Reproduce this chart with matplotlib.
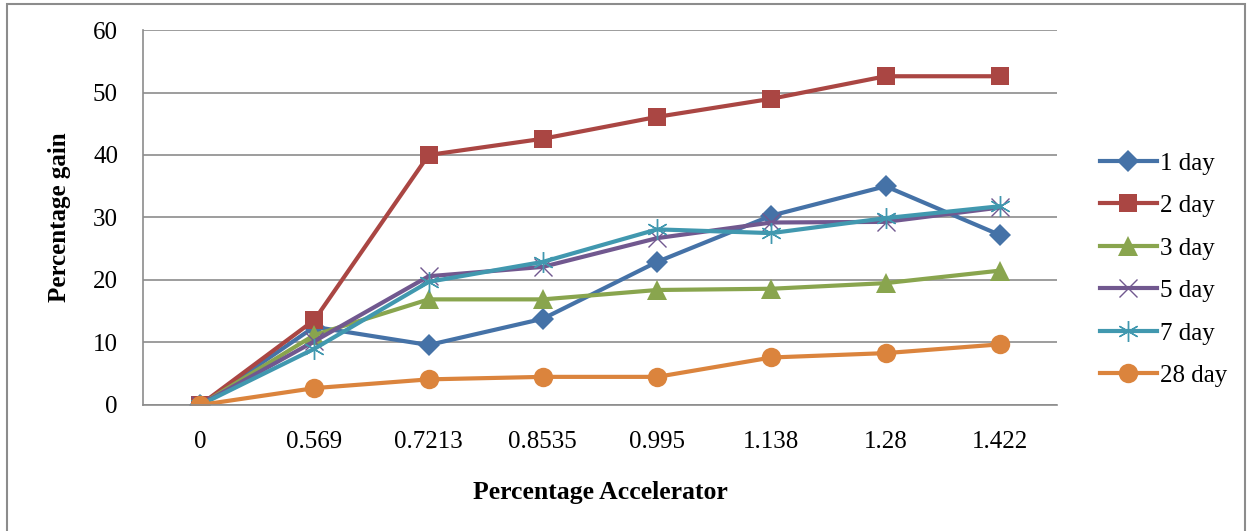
import matplotlib.pyplot as plt
from matplotlib.patches import Rectangle

# accelerator dosage (categories on the x axis)
accelerator = ["0", "0.569", "0.7213", "0.8535", "0.995", "1.138", "1.28", "1.422"]

# percentage strength gain per curing age
gain_1day = [0, 12.5, 9.6, 13.8, 22.9, 30.3, 35.0, 27.2]
gain_2day = [0, 13.6, 40.0, 42.6, 46.1, 49.0, 52.6, 52.6]
gain_3day = [0, 11.2, 16.9, 16.9, 18.4, 18.6, 19.5, 21.5]
gain_5day = [0, 10.2, 20.6, 22.1, 26.7, 29.2, 29.3, 31.6]
gain_7day = [0, 9.0, 19.7, 22.9, 28.1, 27.5, 29.9, 31.8]
gain_28day = [0, 2.7, 4.1, 4.5, 4.5, 7.6, 8.3, 9.7]

series_labels = ["1 day", "2 day", "3 day", "5 day", "7 day", "28 day"]

plt.rcParams['font.family'] = ['Liberation Serif', 'DejaVu Serif']

fig = plt.figure(figsize=(12.5, 5.31), dpi=100)
ax = fig.add_axes([0.1144, 0.2373, 0.7312, 0.7062])

# outer chart border
fig.patches.append(Rectangle((7 / 1250, -0.01), 1238 / 1250, 1 - 4 / 531 + 0.01,
                             transform=fig.transFigure, fill=False,
                             edgecolor="#8c8c8c", linewidth=1.5))

x = range(len(accelerator))
styles = [
    (gain_1day, "#4572A7", "D", 11),
    (gain_2day, "#AA4643", "s", 13),
    (gain_3day, "#89A54E", "^", 14),
    (gain_5day, "#71588F", "x", 13),
    (gain_7day, "#4198AF", (6, 2, 0), 15),
    (gain_28day, "#DB843D", "o", 14),
]
for (vals, col, mk, ms), lab in zip(styles, series_labels):
    if mk in ("x", (6, 2, 0)):
        # thin open glyphs for the cross / asterisk series
        ax.plot(x, vals, color=col, linewidth=3, label=lab, marker=mk,
                markersize=ms, markeredgewidth=1.0, markeredgecolor=col,
                solid_joinstyle="round")
    else:
        ax.plot(x, vals, color=col, linewidth=3, label=lab, marker=mk,
                markersize=ms, markeredgewidth=0, solid_joinstyle="round")

ax.set_xlim(-0.5, len(accelerator) - 0.5)
ax.set_ylim(0, 60)
ax.set_yticks(range(0, 61, 10))
ax.set_xticks(list(x))
ax.set_xticklabels(accelerator)
ax.tick_params(axis="both", length=0, labelsize=18, colors="black")
ax.tick_params(axis="x", pad=19)
ax.tick_params(axis="y", pad=18)

ax.grid(axis="y", color="#8c8c8c", linewidth=1.2)
ax.set_axisbelow(True)
for side in ("top", "right"):
    ax.spines[side].set_visible(False)
for side in ("left", "bottom"):
    ax.spines[side].set_color("#8c8c8c")
    ax.spines[side].set_linewidth(1.2)

ax.set_xlabel("Percentage Accelerator", fontsize=18.5, fontweight="bold", labelpad=20)
ax.set_ylabel("Percentage gain", fontsize=18, fontweight="bold", labelpad=16)

ax.legend(loc="center left", bbox_to_anchor=(1.022, 0.361), frameon=False,
          fontsize=18, handlelength=2.3, handletextpad=0.1, labelspacing=0.8)

fig.savefig("out.png", dpi=100)
